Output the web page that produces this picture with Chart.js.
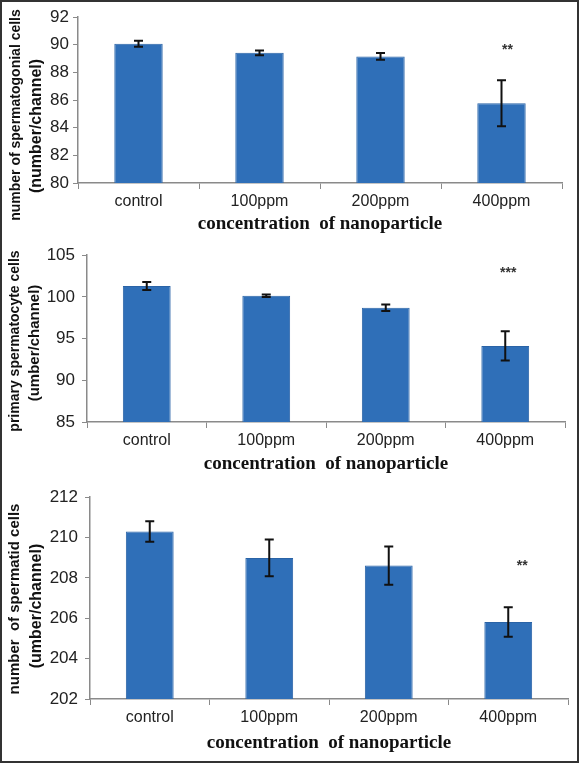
<!DOCTYPE html>
<html>
<head>
<meta charset="utf-8">
<script src="https://cdn.jsdelivr.net/npm/chart.js@4.4.0/dist/chart.umd.min.js"></script>
<style>
  html, body { margin: 0; padding: 0; background: #fff; }
  #frame { position: relative; width: 579px; height: 763px; box-sizing: border-box; border: 2px solid #333; overflow: hidden; }
  .panel { position: absolute; left: -2px; width: 579px; }
</style>
</head>
<body>
<div id="frame">
  <div class="panel" style="top:-2px;height:238px"><canvas id="c1"></canvas></div>
  <div class="panel" style="top:236px;height:242px"><canvas id="c2"></canvas></div>
  <div class="panel" style="top:478px;height:283px"><canvas id="c3"></canvas></div>
</div>
<script>
// categories shared by all three panels
var doses = ['control', '100ppm', '200ppm', '400ppm'];

// spermatogonial cells
var gonialMean = [90.07, 89.41, 89.15, 85.77];
var gonialErr  = [0.22, 0.17, 0.24, 1.66];

// primary spermatocyte cells
var cyteMean = [101.3, 100.15, 98.7, 94.12];
var cyteErr  = [0.48, 0.15, 0.38, 1.76];

// spermatid cells
var tidMean = [210.3, 208.99, 208.61, 205.82];
var tidErr  = [0.51, 0.91, 0.95, 0.73];

var BAR = '#2f6fb8';
var AXIS = '#8a8a8a';

// error bars + significance stars, drawn from the scales
var errorBars = {
  id: 'errorBars',
  afterDatasetsDraw: function(chart) {
    var ctx = chart.ctx;
    var meta = chart.getDatasetMeta(0);
    var y = chart.scales.y;
    var errs = chart.options.plugins.errorBars.err;
    ctx.save();
    ctx.strokeStyle = '#111';
    ctx.lineWidth = 2;
    meta.data.forEach(function(bar, i) {
      var v = chart.data.datasets[0].data[i];
      var top = y.getPixelForValue(v + errs[i]);
      var bot = y.getPixelForValue(v - errs[i]);
      ctx.beginPath();
      ctx.moveTo(bar.x, top); ctx.lineTo(bar.x, bot);
      ctx.moveTo(bar.x - 4.5, top); ctx.lineTo(bar.x + 4.5, top);
      ctx.moveTo(bar.x - 4.5, bot); ctx.lineTo(bar.x + 4.5, bot);
      ctx.stroke();
    });
    var star = chart.options.plugins.errorBars.star;
    if (star) {
      var bar = meta.data[star.index];
      ctx.fillStyle = '#333';
      ctx.font = 'bold 14px "Liberation Sans"';
      ctx.textAlign = 'center';
      ctx.textBaseline = 'middle';
      ctx.fillText(star.text, bar.x + star.dx, y.getPixelForValue(star.at));
    }
    ctx.restore();
  }
};

// rotated two-line y title (lines have different sizes in the original)
var yTitle = {
  id: 'yTitle',
  afterDraw: function(chart) {
    var t = chart.options.plugins.yTitle;
    var ctx = chart.ctx;
    ctx.save();
    ctx.fillStyle = '#111';
    ctx.textAlign = 'center';
    ctx.textBaseline = 'middle';
    t.lines.forEach(function(line, i) {
      ctx.save();
      ctx.translate(t.x[i], t.cy[i]);
      ctx.rotate(-Math.PI / 2);
      ctx.font = 'bold ' + t.sizes[i] + 'px "Liberation Sans"';
      ctx.fillText(line, 0, 0);
      ctx.restore();
    });
    ctx.restore();
  }
};

function makePanel(id, values, errs, yMin, yMax, step, opts) {
  new Chart(document.getElementById(id), {
    type: 'bar',
    data: {
      labels: doses,
      datasets: [{
        data: values,
        backgroundColor: BAR,
        borderColor: '#2a63a6',
        borderWidth: 1,
        barPercentage: 0.4,
        categoryPercentage: 1.0
      }]
    },
    options: {
      responsive: true,
      maintainAspectRatio: false,
      animation: false,
      layout: { padding: { top: opts.top, right: opts.right, bottom: 0, left: 0 } },
      plugins: {
        legend: { display: false },
        tooltip: { enabled: false },
        errorBars: { err: errs, star: opts.star },
        yTitle: opts.title
      },
      scales: {
        x: {
          offset: true,
          afterFit: function(s) { s.height = opts.xh; },
          grid: { offset: true, drawOnChartArea: false, drawTicks: true, tickLength: 6, color: AXIS },
          border: { color: AXIS, width: 1.5 },
          ticks: { color: '#222', padding: 3, font: { family: 'Liberation Sans', size: 16 } },
          title: {
            display: true,
            text: 'concentration  of nanoparticle',
            color: '#111',
            padding: { top: 0, bottom: opts.xtb },
            font: { family: 'Liberation Serif', size: 19, weight: 'bold' }
          }
        },
        y: {
          min: yMin,
          max: yMax,
          afterFit: function(s) { s.width = opts.yw; },
          grid: { drawOnChartArea: false, drawTicks: true, tickLength: 5, color: AXIS },
          border: { color: AXIS, width: 1.5 },
          ticks: { stepSize: step, color: '#222', padding: opts.tp, font: { family: 'Liberation Sans', size: 17 } },
          title: { display: false }
        }
      }
    },
    plugins: [errorBars, yTitle]
  });
}

makePanel('c1', gonialMean, gonialErr, 80, 92, 2, {
  top: 17, right: 17, yw: 78, xh: 55, xtb: 3, tp: 4,
  star: { index: 3, text: '**', at: 89.6, dx: 6 },
  title: { lines: ['number of spermatogonial cells', '(number/channel)'], sizes: [14, 16], x: [16, 37], cy: [115, 126] }
});

makePanel('c2', cyteMean, cyteErr, 85, 105, 5, {
  top: 17, right: 14, yw: 87, xh: 58, xtb: 5, tp: 7,
  star: { index: 3, text: '***', at: 102.8, dx: 3 },
  title: { lines: ['primary spermatocyte cells', '(umber/channel)'], sizes: [14, 15], x: [15, 35], cy: [103, 105] }
});

makePanel('c3', tidMean, tidErr, 202, 212, 2, {
  top: 17, right: 11, yw: 90, xh: 64, xtb: 9, tp: 7,
  star: { index: 3, text: '**', at: 208.6, dx: 14 },
  title: { lines: ['number  of spermatid cells', '(umber/channel)'], sizes: [15, 16], x: [15, 37], cy: [119, 126] }
});
</script>
</body>
</html>
